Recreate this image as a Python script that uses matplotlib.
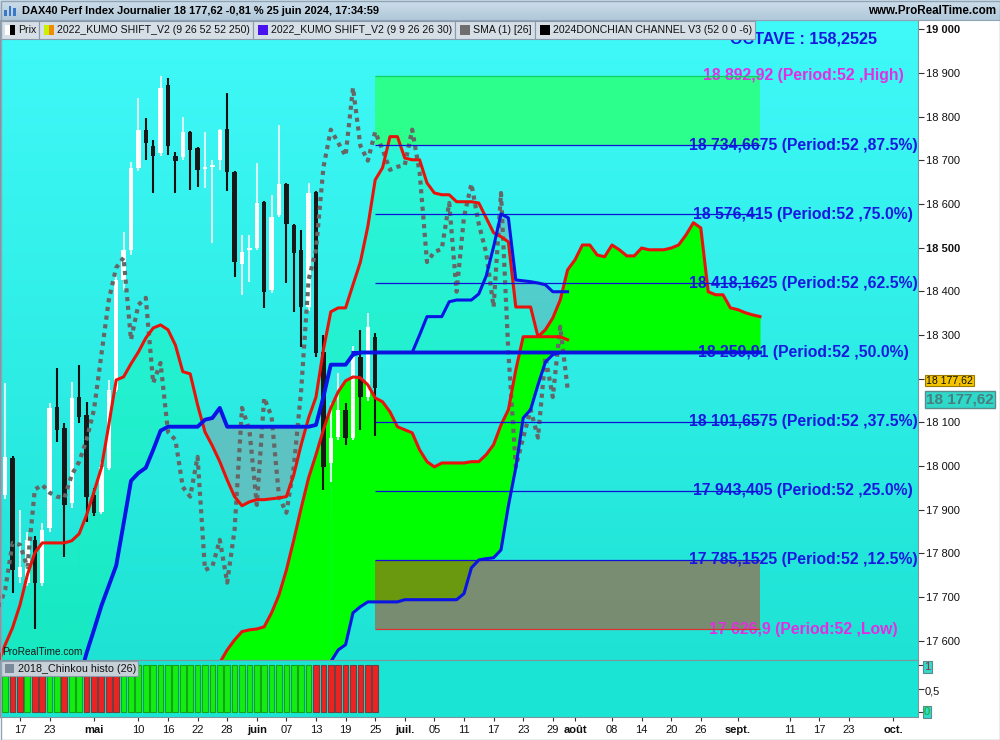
import numpy as np
import pandas as pd
import matplotlib
matplotlib.use("Agg")
import matplotlib.pyplot as plt
from matplotlib.patches import Rectangle
from matplotlib.transforms import blended_transform_factory

plt.rcParams['font.family'] = ['Liberation Sans', 'DejaVu Sans']

# ======================= DATA =======================
first_candle = "2024-04-15"
opens = [17934, 18019, 17745, 17733, 17831, 17733, 17859, 18136, 18087, 17916, 18158, 18117, 17934,
         17895, 17996, 18174, 18426, 18495, 18683, 18770, 18733, 18717, 18873, 18710, 18708, 18765,
         18728, 18680, 18685, 18701, 18772, 18673, 18463, 18495, 18499, 18605, 18403, 18575, 18646,
         18552, 18495, 18364, 18628, 18261, 18007, 18067, 18129, 18065, 18250, 18158, 18296]
highs = [18190, 18022, 17900, 17850, 17840, 17870, 18145, 18225, 18099, 18193, 18232, 18147, 17950,
         18010, 18197, 18442, 18536, 18696, 18843, 18797, 18747, 18892.92, 18889, 18719, 18799, 18768,
         18730, 18765, 18701, 18772, 18854, 18675, 18529, 18529, 18694, 18607, 18621, 18781, 18648,
         18553, 18541, 18648, 18630, 18300, 18145, 18213, 18145, 18275, 18312, 18351, 18305]
lows = [17925, 17710, 17733, 17725, 17626.9, 17725, 17850, 18055, 17792, 17905, 18099, 17872, 17885,
        17890, 17990, 18170, 18403, 18483, 18675, 18701, 18625, 18710, 18712, 18625, 18700, 18632,
        18639, 18637, 18511, 18678, 18630, 18433, 18392, 18422, 18495, 18362, 18395, 18570, 18419,
        18353, 18273, 18355, 18250, 17946, 17964, 18060, 18049, 18060, 18083, 18150, 18069]
closes = [18021, 17762, 17770, 17831, 17733, 17854, 18133, 18083, 17911, 18156, 18113, 17930, 17893,
          17998, 18174, 18426, 18495, 18683, 18770, 18740, 18710, 18866, 18733, 18699, 18765, 18724,
          18678, 18685, 18689, 18770, 18673, 18467, 18490, 18497, 18602, 18399, 18570, 18646, 18554,
          18488, 18364, 18625, 18259, 17998, 18065, 18129, 18065, 18250, 18158, 18319, 18177.62]
# closes of the 27 sessions before the first visible candle (source of the lagging line)
earlier_closes = [17671, 17717, 17824, 17820, 17769, 17946, 17957, 17939, 17930, 17927, 17980, 18010,
                  18060, 18129, 18255, 18380, 18454, 18477, 18289, 18369, 18385, 18190, 18236, 18078,
                  18060, 17952, 17930]
lag_sessions = 26

red1_start = "2024-04-12"
red1 = [17545, 17591, 17630, 17682, 17751, 17801, 17824, 17824, 17824, 17824,
        17829, 17845, 17888, 17941, 17996, 18094, 18197, 18204, 18234, 18261,
        18293, 18316, 18323, 18312, 18277, 18216, 18211, 18140, 18078, 18046,
        18010, 17968, 17930, 17909, 17918, 17923, 17923, 17925, 17927, 17930,
        17980, 18049, 18110, 18158, 18266, 18353, 18362, 18362, 18415, 18467,
        18548, 18655, 18683, 18754, 18754, 18705, 18701, 18701, 18648, 18625,
        18621, 18621, 18605, 18605, 18605, 18602, 18568, 18534, 18525, 18513,
        18364, 18364, 18364, 18296, 18312, 18339, 18380, 18449, 18472, 18506,
        18506, 18483, 18479, 18506, 18495, 18481, 18481, 18499, 18495, 18495,
        18495, 18499, 18506, 18529, 18557, 18545, 18399, 18392, 18392, 18362,
        18358, 18351, 18346, 18342]
blue1_start = "2024-04-29"
blue1 = [17511, 17572, 17625, 17680, 17726, 17772, 17868, 17966, 17984, 17996,
         18037, 18081, 18090, 18090, 18090, 18090, 18090, 18106, 18110, 18133,
         18090, 18090, 18090, 18090, 18090, 18090, 18090, 18090, 18090, 18090,
         18090, 18090, 18094, 18158, 18232, 18232, 18232, 18255, 18259.91, 18259.91,
         18259.91, 18259.91, 18259.91, 18259.91, 18259.91, 18259.91, 18259.91, 18259.91,
         18259.91, 18259.91, 18259.91, 18259.91, 18259.91, 18259.91, 18259.91, 18259.91,
         18259.91, 18259.91, 18259.91, 18259.91, 18259.91, 18259.91, 18259.91, 18259.91,
         18259.91, 18259.91, 18259.91, 18259.91, 18259.91, 18259.91, 18259.91, 18259.91,
         18259.91, 18259.91, 18259.91, 18259.91, 18259.91, 18259.91, 18259.91, 18259.91,
         18259.91, 18259.91, 18259.91, 18259.91, 18259.91, 18259.91, 18259.91, 18259.91,
         18259.91, 18259.91, 18259.91, 18259.91, 18259.91]
red2_start = "2024-05-24"
red2 = [17488, 17550, 17579, 17602, 17621, 17625, 17627, 17632, 17664, 17705,
        17762, 17831, 17904, 17973, 18026, 18083, 18133, 18170, 18195, 18204,
        18202, 18186, 18156, 18147, 18124, 18090, 18083, 18076, 18037, 18010,
        17998, 18007, 18007, 18007, 18007, 18010, 18010, 18026, 18049, 18094,
        18129, 18220, 18296, 18296, 18296, 18296, 18296, 18296, 18289]
blue2_start = "2024-06-17"
blue2 = [17552, 17579, 17591, 17664, 17678, 17689, 17689, 17689, 17689, 17689,
         17694, 17694, 17694, 17694, 17694, 17694, 17694, 17694, 17708, 17767,
         17785, 17788, 17790, 17808, 17909, 17996, 18110, 18129, 18186, 18238,
         18255, 18259.91, 18259.91]
blue3_start = "2024-06-20"
blue3 = [18259.91, 18259.91, 18259.91, 18259.91, 18259.91, 18259.91, 18259.91, 18259.91, 18259.91,
         18300, 18342, 18342, 18342, 18376, 18380, 18380, 18380, 18394, 18435,
         18502, 18577, 18568, 18426, 18424, 18422, 18419, 18415, 18399, 18399, 18399]
bright_cloud_from = "2024-07-25"

donchian_projection = 52
histo_height = 1

tick_dates = ["2024-04-17", "2024-04-23", "2024-05-02", "2024-05-10", "2024-05-16", "2024-05-22",
              "2024-05-28", "2024-06-03", "2024-06-07", "2024-06-13", "2024-06-19", "2024-06-25",
              "2024-07-01", "2024-07-05", "2024-07-11", "2024-07-17", "2024-07-23", "2024-07-29",
              "2024-08-01", "2024-08-08", "2024-08-14", "2024-08-20", "2024-08-26", "2024-09-02",
              "2024-09-11", "2024-09-17", "2024-09-23", "2024-10-01"]
tick_texts = ["17", "23", "mai", "10", "16", "22", "28", "juin", "07", "13", "19", "25", "juil.", "05",
              "11", "17", "23", "29", "août", "08", "14", "20", "26", "sept.", "11", "17", "23", "oct."]
month_names = ["mai", "juin", "juil.", "août", "sept.", "oct."]

price_ticks = [17600, 17700, 17800, 17900, 18000, 18100, 18200, 18300, 18400, 18500,
               18600, 18700, 18800, 18900, 19000]
bold_ticks = [18500, 19000]
hidden_tick_labels = [18200]   # covered by the last-price marker

header_text = "DAX40 Perf Index Journalier 18 177,62 -0,81 % 25 juin 2024, 17:34:59"
legend_items = [("Prix", ["#FFFFFF", "#000000"]),
                ("2022_KUMO SHIFT_V2 (9 26 52 52 250)", ["#C8F000", "#F08C00"]),
                ("2022_KUMO SHIFT_V2 (9 9 26 26 30)", ["#4A12EE"]),
                ("SMA (1) [26]", ["#6E6E6E"]),
                ("2024DONCHIAN CHANNEL V3 (52 0 0 -6)", ["#000000"])]

# ======================= HELPERS =======================
sessions = pd.bdate_range("2024-04-12", "2024-10-31")
sessions = sessions[sessions != pd.Timestamp("2024-05-01")]


def sx(d):
    return sessions.get_loc(pd.Timestamp(d))


def fr(v, dec=4):
    s = f"{v:.{dec}f}".rstrip('0').rstrip('.')
    ip, _, dp = s.partition('.')
    ip = f"{int(ip):,}".replace(',', ' ')
    return ip + (',' + dp if dp else '')


W, H = 1000, 740
X_LEFT, X_RIGHT = 0.3, 124.35
Y_BOT, Y_TOP = 17556.0, 19021.0

RED = '#E8140C'
BLUE = '#0A14E4'
LW = 2.2
LIGHT_CLOUD = (0.0, 1.0, 0.52)
TEAL = '#5CC2C2'

fig = plt.figure(figsize=(W / 100, H / 100), dpi=100)
fig.patch.set_facecolor('white')
ax = fig.add_axes([0, 80 / H, 918 / W, 640 / H])
axh = fig.add_axes([0, 23 / H, 918 / W, 57 / H])
ov = fig.add_axes([0, 0, 1, 1])
ov.set_zorder(10)
ov.patch.set_visible(False)
ov.axis('off')
renderer = fig.canvas.get_renderer()


def fit(t, width):
    bb = t.get_window_extent(renderer)
    t.set_fontsize(t.get_fontsize() * width / bb.width)
    return t.get_fontsize()


# ======================= MAIN PANEL =======================
ax.set_xlim(X_LEFT, X_RIGHT)
ax.set_ylim(Y_BOT, Y_TOP)
top_c = np.array([64, 249, 249]) / 255
bot_c = np.array([30, 227, 212]) / 255
tt = np.linspace(0, 1, 256)[:, None]
grad = (top_c * (1 - tt) + bot_c * tt)[:, None, :]
ax.imshow(grad, extent=(X_LEFT, X_RIGHT, Y_BOT, Y_TOP), aspect='auto', origin='upper', zorder=0)
ax.set_xlim(X_LEFT, X_RIGHT)
ax.set_ylim(Y_BOT, Y_TOP)

r1 = np.array(red1, float); xr1 = sx(red1_start) + np.arange(len(r1))
b1 = np.array(blue1, float); xb1 = sx(blue1_start) + np.arange(len(b1))
r2 = np.array(red2, float); xr2 = sx(red2_start) + np.arange(len(r2))
b2 = np.array(blue2, float); xb2 = sx(blue2_start) + np.arange(len(b2))
b3 = np.array(blue3, float); xb3 = sx(blue3_start) + np.arange(len(b3))
sw = sx(bright_cloud_from)

# kumo 1 clouds
off = sx(blue1_start) - sx(red1_start)
ax.fill_between(xr1[:off + 1], r1[:off + 1], Y_BOT, color=LIGHT_CLOUD, alpha=0.22, lw=0, zorder=1)
r1c = r1[off:off + len(b1)]
pos = r1c >= b1
ax.fill_between(xb1, r1c, b1, where=pos & (xb1 <= sw), interpolate=True, color=LIGHT_CLOUD,
                alpha=0.22, lw=0, zorder=1)
ax.fill_between(xb1, r1c, b1, where=pos & (xb1 >= sw), interpolate=True, color='#00FF00',
                lw=0, zorder=1.1)
ax.fill_between(xb1, r1c, b1, where=~pos, interpolate=True, color=TEAL, lw=0, zorder=1)

# kumo 2 cloud
off2 = sx(blue2_start) - sx(red2_start)
ax.fill_between(xr2[:off2 + 1], r2[:off2 + 1], Y_BOT, color='#00FF00', lw=0, zorder=1.1)
r2c = r2[off2:off2 + len(b2)]
ax.fill_between(xb2, r2c, b2, where=r2c >= b2, interpolate=True, color='#00FF00', lw=0, zorder=1.1)
off3 = sx(blue3_start) - sx(red1_start)
r1d = r1[off3:off3 + len(b3)]
ax.fill_between(xb3, b3, r1d, where=b3 > r1d, interpolate=True, color=TEAL, alpha=0.75, lw=0,
                zorder=1.2)

# Donchian channel projection
n = len(closes)
cx = sx(first_candle) + np.arange(n)
hh, ll = max(highs), min(lows)
octave = (hh - ll) / 8
levels = [ll + k * octave for k in range(9)]
xd0, xd1 = cx[-1], cx[-1] + donchian_projection
ax.add_patch(Rectangle((xd0, levels[7]), xd1 - xd0, levels[8] - levels[7], fc='#2CFF8C', ec='none',
                       zorder=1.5))
ax.add_patch(Rectangle((xd0, levels[0]), xd1 - xd0, levels[1] - levels[0], fc=(0.76, 0.27, 0.12),
                       alpha=0.55, ec='none', zorder=1.5))
for k, lv in enumerate(levels):
    col = '#10D060' if k == 8 else ('#E03030' if k == 0 else '#1010D8')
    ax.hlines(lv, xd0, xd1, colors=col, lw=0.9, zorder=4.5)

trl = blended_transform_factory(ax.transAxes, ax.transData)
lab_fs = None
for k, lv in enumerate(levels):
    tag = "High" if k == 8 else ("Low" if k == 0 else f"{k * 12.5:.1f}%")
    col = '#E22EE2' if k in (0, 8) else '#1818E0'
    t = ax.text(803 / 918, lv, f"{fr(lv)} (Period:52 ,{tag})", transform=trl, ha='center',
                va='center', color=col, fontweight='bold', fontsize=11, zorder=2.5)
    if k == 7:
        lab_fs = fit(t, 228)
for t in ax.texts:
    t.set_fontsize(lab_fs)

# candles
O = np.array(opens, float); Hh = np.array(highs, float)
L = np.array(lows, float); C = np.array(closes, float)
up = C >= O
ax.vlines(cx[up], L[up], Hh[up], colors='#D6F2F2', lw=1.5, zorder=3)
ax.vlines(cx[~up], L[~up], Hh[~up], colors='#111111', lw=1.5, zorder=3)
blo = np.minimum(O, C)
bh = np.maximum(np.abs(C - O), 3.0)
ax.bar(cx[up], bh[up], bottom=blo[up], width=0.58, color='#FFFFFF', lw=0, zorder=3.1)
ax.bar(cx[~up], bh[~up], bottom=blo[~up], width=0.58, color='#181818', lw=0, zorder=3.1)

# lagging line
all_closes = np.array(earlier_closes + closes, float)
lag_x = sx(first_candle) - len(earlier_closes) + lag_sessions + np.arange(len(all_closes))
ax.plot(lag_x, all_closes, color='#666666', lw=3.0, ls=(0, (1, 1.1)), dash_capstyle='butt',
        zorder=3.5)

# kumo lines
ax.plot(xr1, r1, color=RED, lw=LW, zorder=4, solid_joinstyle='round')
ax.plot(xr2, r2, color=RED, lw=LW, zorder=4, solid_joinstyle='round')
ax.plot(xb1, b1, color=BLUE, lw=LW + 0.6, zorder=4.1, solid_joinstyle='round')
ax.plot(xb2, b2, color=BLUE, lw=LW, zorder=4.1, solid_joinstyle='round')
ax.plot(xb3, b3, color=BLUE, lw=LW, zorder=4.1, solid_joinstyle='round')

ax.set_xticks([])
ax.yaxis.tick_right()
ax.set_yticks(price_ticks)
ax.set_yticklabels(['' if v in hidden_tick_labels else fr(v) for v in price_ticks])
ax.tick_params(axis='y', direction='out', length=4, width=0.8, colors='#333333', labelsize=8, pad=2)
for lbl, v in zip(ax.get_yticklabels(), price_ticks):
    lbl.set_color('#111111')
    if v in bold_ticks:
        lbl.set_fontweight('bold')
for s in ax.spines.values():
    s.set_color('#7D96A0'); s.set_linewidth(0.8)

# ======================= LOWER PANEL =======================
axh.set_facecolor('#1AE4D4')
axh.set_xlim(X_LEFT, X_RIGHT)
axh.set_ylim(-0.106, 1.106)
k0 = len(earlier_closes)
above = np.array([all_closes[k0 + i] > all_closes[k0 + i - lag_sessions] for i in range(n)])
axh.bar(cx, histo_height, width=0.78, color=np.where(above, '#12EE12', '#EE2222'),
        edgecolor=np.where(above, '#18A018', '#704040'), lw=0.8, zorder=2)
axh.yaxis.tick_right()
axh.set_yticks([0, 0.5, 1])
axh.set_yticklabels([])
axh.tick_params(axis='y', direction='out', length=4, width=0.8, colors='#333333')
axh.set_xticks([sx(d) for d in tick_dates])
axh.set_xticklabels(tick_texts)
axh.tick_params(axis='x', direction='out', length=3, width=0.8, colors='#333333', labelsize=8, pad=3)
for lbl, s in zip(axh.get_xticklabels(), tick_texts):
    lbl.set_color('#111111')
    if s in month_names:
        lbl.set_fontweight('bold')
for s in axh.spines.values():
    s.set_color('#7D96A0'); s.set_linewidth(0.8)

# ======================= OVERLAY (pixel coords) =======================
ov.set_xlim(0, W); ov.set_ylim(H, 0)
hdr_top = np.array([206, 222, 234]) / 255
hdr_bot = np.array([176, 200, 218]) / 255
th = np.linspace(0, 1, 20)[:, None]
ov.imshow((hdr_top * (1 - th) + hdr_bot * th)[:, None, :], extent=(0, W, 20, 0), aspect='auto',
          origin='upper', zorder=1)
ov.set_xlim(0, W); ov.set_ylim(H, 0)
ov.hlines(20, 0, W, colors='#8FA4B4', lw=0.8, zorder=2)
for i, hgt in enumerate([6, 10, 8]):
    ov.add_patch(Rectangle((4 + i * 4.5, 16 - hgt), 2.5, hgt, fc='#3C78C8', ec='none', zorder=2))
t = ov.text(22, 10.5, header_text, fontsize=9, fontweight='bold', va='center', ha='left', zorder=3)
fit(t, 356)
t = ov.text(996, 10.5, "www.ProRealTime.com", fontsize=8, fontweight='bold', va='center',
            ha='right', zorder=3)
fit(t, 128)

# OCTAVE text (partly under legend)
t = ov.text(803, 39.5, f"OCTAVE : {fr(octave)}", fontsize=12, fontweight='bold', color='#1818E0',
            va='center', ha='center', zorder=2)
fit(t, 147)

# legend boxes
leg_names = [li[0] for li in legend_items]
probe = ov.text(0, 0, leg_names[1], fontsize=8)
leg_fs = fit(probe, 194)
probe.remove()
x = 0
for label, cols in legend_items:
    sw_x = x + 5
    wseg = 10 / len(cols)
    for j, c in enumerate(cols):
        ov.add_patch(Rectangle((sw_x + j * wseg, 24.5), wseg, 10, fc=c, ec='none', zorder=5))
    t = ov.text(sw_x + 13, 30, label, fontsize=leg_fs, va='center', ha='left', color='#111111',
                zorder=5)
    bb = t.get_window_extent(renderer)
    wbox = (sw_x + 13 + bb.width + 3) - x
    ov.add_patch(Rectangle((x, 21), wbox, 18, fc='#D6DEE6', ec='#8A9AAA', lw=0.8, zorder=4))
    x += wbox

# ProRealTime watermark
t = ov.text(2, 652, "ProRealTime.com", fontsize=8.5, color='#1A1A1A', va='center', ha='left', zorder=3)
fit(t, 81)

# lower panel legend
ov.add_patch(Rectangle((0, 661), 138, 15, fc='#C9D1D8', ec='#8A9AAA', lw=0.8, zorder=4))
ov.add_patch(Rectangle((5, 664), 9, 9, fc='#7A8A9A', ec='none', zorder=5))
t = ov.text(18, 668.5, "2018_Chinkou histo (26)", fontsize=8.5, color='#111111', va='center',
            ha='left', zorder=5)
fit(t, 117)

# current price markers
ov.text(926, 380.5, fr(closes[-1], 2), fontsize=7.6, color='#111111', va='center', ha='left', zorder=5,
        bbox=dict(boxstyle='square,pad=0.08', fc='#F5C400', ec='#9A7A00', lw=0.8))
ov.text(926, 399.5, fr(closes[-1], 2), fontsize=11, fontweight='bold', color='#4A7E7E', va='center',
        ha='left', zorder=5, bbox=dict(boxstyle='square,pad=0.08', fc='#2FD9C9', ec='#5A8C8C', lw=1))

# lower panel right labels
ov.text(924, 667, "1", fontsize=8, color='#A02828', va='center', ha='left', zorder=5,
        bbox=dict(boxstyle='square,pad=0.12', fc='#34D8CC', ec='#5A8C8C', lw=0.8))
ov.text(925, 691, "0,5", fontsize=8, color='#111111', va='center', ha='left', zorder=5)
ov.text(924, 712, "0", fontsize=8, color='#10B010', va='center', ha='left', zorder=5,
        bbox=dict(boxstyle='square,pad=0.12', fc='#34D8CC', ec='#5A8C8C', lw=0.8))

ov.add_patch(Rectangle((0.5, 0.5), W - 1, H - 1, fc='none', ec='#8FA4B4', lw=1, zorder=6))

fig.savefig("out.png", dpi=100)
